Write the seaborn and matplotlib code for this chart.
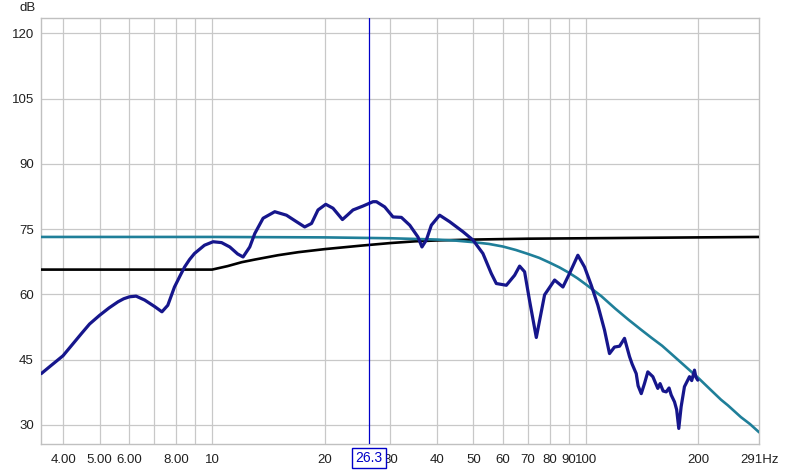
import seaborn as sns
import pandas as pd
import matplotlib.pyplot as plt

# measured response (dark blue)
meas_hz = [3.49, 3.70, 3.99, 4.20, 4.47, 4.70, 5.00, 5.30, 5.60, 5.80, 6.01, 6.26,
           6.60, 7.02, 7.34, 7.61, 7.93, 8.20, 8.44, 8.70, 8.97, 9.54, 10.06, 10.6,
           11.15, 11.7, 12.10, 12.61, 13.01, 13.69, 14.71, 15.81,
           16.82, 17.69, 18.45, 19.20, 20.14, 21.06, 22.32, 23.0, 23.82, 25.33, 26.95,
           27.52, 28.96, 30.48, 32.09, 33.79, 35.54, 36.43, 37.43, 38.60, 40.62,
           43.21, 46.91, 49.88, 53.04, 55.85, 57.60, 61.28, 64.48, 66.49, 68.57,
           70.72, 73.70, 77.56, 82.50, 86.83, 90.43, 95.2, 99.2, 103.4, 107.7,
           112.2, 115.7, 119.3, 123.1, 126.9, 130.9, 133.0, 136.4, 138.0, 140.7,
           143.5, 146.5, 151.1, 155.8, 158.0, 161.0, 164.1, 167.0, 169.2, 172.7,
           175.0, 177.3, 179.9, 183.6, 189.4, 192.0, 195.3, 197.0, 199.3]
meas_db = [41.8, 43.6, 45.9, 48.2, 51.0, 53.2, 55.2, 56.9, 58.3, 59.0, 59.45, 59.6,
           58.7, 57.2, 56.0, 57.5, 61.7, 64.2, 66.3, 68.0, 69.4, 71.3, 72.1, 71.9,
           70.9, 69.3, 68.6, 70.9, 74.0, 77.5, 79.0, 78.2,
           76.7, 75.5, 76.3, 79.4, 80.7, 79.8, 77.2, 78.2, 79.4, 80.3, 81.3,
           81.3, 80.1, 77.8, 77.7, 75.9, 73.2, 70.9, 72.5, 75.9, 78.2,
           76.7, 74.4, 72.5, 69.4, 64.8, 62.5, 62.1, 64.4, 66.5, 65.2,
           58.5, 50.1, 59.9, 63.3, 61.7, 64.8, 69.0, 66.3, 62.1, 57.5,
           51.8, 46.4, 47.9, 48.1, 49.9, 45.7, 44.0, 41.8, 39.0, 37.2,
           39.5, 42.2, 41.1, 38.4, 39.5, 37.8, 37.6, 38.5, 36.9, 35.3,
           33.5, 29.2, 34.2, 38.8, 41.1, 40.2, 42.6, 41.0, 40.3]

# target curve (teal)
target_hz = [3.48, 10, 20, 30, 40, 45, 50, 55, 60, 65, 70, 75, 80, 85, 90, 95, 100,
             110, 120, 130, 140, 150, 160, 170, 180, 190, 200, 215, 230, 240, 260,
             275, 291]
target_db = [73.2, 73.2, 73.1, 72.9, 72.6, 72.35, 72.0, 71.6, 71.0, 70.2, 69.3,
             68.4, 67.3, 66.2, 65.0, 63.7, 62.3, 59.6, 56.7, 54.2, 52.0, 50.0, 48.2,
             46.2, 44.3, 42.5, 40.8, 38.2, 35.8, 34.5, 31.8, 30.2, 28.3]

# filter curve (black)
filt_hz = [3.48, 10, 11, 12, 13, 15, 17, 20, 25, 30, 35, 40, 50, 70, 100, 200, 291]
filt_db = [65.7, 65.7, 66.5, 67.4, 68.0, 69.0, 69.7, 70.4, 71.2, 71.8, 72.2, 72.4,
           72.6, 72.8, 72.9, 73.1, 73.2]

x_ticks = [4, 5, 6, 8, 10, 20, 30, 40, 50, 60, 70, 80, 90, 100, 200, 291]
x_labels = ["4.00", "5.00", "6.00", "8.00", "10", "20", "30", "40", "50", "60",
            "70", "80", "90", "100", "200", "291Hz"]
x_grid = [4, 5, 6, 7, 8, 9, 10, 20, 30, 40, 50, 60, 70, 80, 90, 100, 200]
y_ticks = [30, 45, 60, 75, 90, 105, 120]
cursor_hz = 26.3

sns.set_style("white")
plt.rcParams['font.family'] = ['Liberation Sans', 'DejaVu Sans']

fig = plt.figure(figsize=(8, 4.7), dpi=100)
ax = fig.add_axes([0.051, 0.0547, 0.898, 0.906])
ax.set_xscale('log')

for v in x_grid:
    ax.axvline(v, color='#c8c8c8', lw=0.9, zorder=0)
for v in y_ticks:
    ax.axhline(v, color='#c8c8c8', lw=0.9, zorder=0)

sns.lineplot(data=pd.DataFrame({'hz': filt_hz, 'db': filt_db}), x='hz', y='db',
             color='black', lw=1.9, ax=ax, zorder=3)
sns.lineplot(data=pd.DataFrame({'hz': target_hz, 'db': target_db}), x='hz', y='db',
             color='#1f7f99', lw=1.9, ax=ax, zorder=3)
sns.lineplot(data=pd.DataFrame({'hz': meas_hz, 'db': meas_db}), x='hz', y='db',
             color='#16168c', lw=2.3, ax=ax, zorder=4)

ax.axvline(cursor_hz, color='#0000c8', lw=0.9, zorder=5)

ax.set_xlim(3.48, 291)
ax.set_ylim(25.56, 123.4)
ax.set_xticks(x_ticks)
ax.set_xticklabels(x_labels)
ax.xaxis.set_minor_locator(plt.NullLocator())
ax.set_yticks(y_ticks)
ax.tick_params(length=0, labelsize=9.5, colors='#202020')
ax.tick_params(axis='x', pad=7)
ax.tick_params(axis='y', pad=5)
ax.set_xlabel("")
ax.set_ylabel("")
for s in ax.spines.values():
    s.set_color('#c0c0c0')
    s.set_linewidth(1)

ax.text(cursor_hz, -0.032, "26.3", transform=ax.get_xaxis_transform(),
        ha='center', va='center', fontsize=10, color='#0000c8', zorder=10,
        clip_on=False,
        bbox=dict(boxstyle='square,pad=0.22', fc='white', ec='#0000c8', lw=1))
fig.text(28 / 800, 1 - 8 / 470, "dB", ha='center', va='center', fontsize=9.5,
         color='#202020')

plt.savefig("out.png", dpi=100)
